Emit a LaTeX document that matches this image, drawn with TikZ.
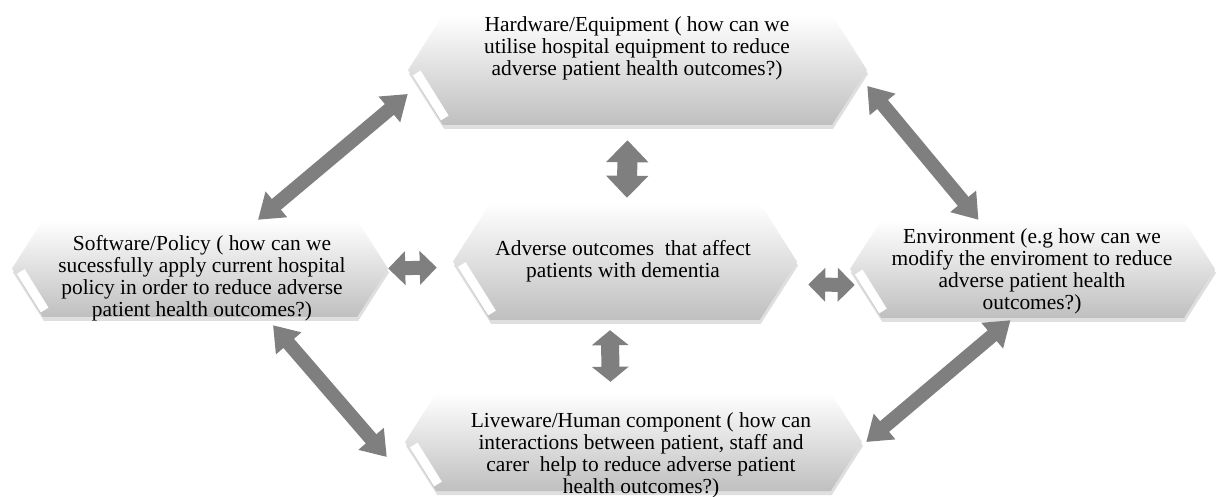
\documentclass[tikz,border=0pt]{standalone}
\usepackage{fontspec}
\setmainfont{Liberation Serif}
\usetikzlibrary{arrows.meta,shapes.symbols,shadows}

\definecolor{linkgray}{RGB}{127,127,127}

\tikzset{
  hexbox/.style={signal, signal to=east and west, signal pointer angle=115,
    draw=none, top color=white, bottom color=black!25, inner sep=0pt,
    drop shadow={shadow xshift=1bp, shadow yshift=-4bp, opacity=0.25}},
  bevel/.style={draw=white, line width=9bp},
  boxtext/.style={align=center, inner sep=0pt, font=\fontsize{21.5}{22}\selectfont},
  link/.style={draw=linkgray, line width=14bp,
    {Triangle[width=32bp,length=24bp]}-{Triangle[width=32bp,length=24bp]}},
  shortlink/.style={draw=linkgray, line width=14bp,
    {Triangle[width=33bp,length=17bp]}-{Triangle[width=33bp,length=17bp]}}
}

\begin{document}
\begin{tikzpicture}[x=1bp, y=-1bp]

% Canvas
\useasboundingbox (0,0) rectangle (1218,497);

% Draw the boxes
\node[hexbox, minimum width=459bp, minimum height=110bp] (hw) at (637.5,70) {};
\node[hexbox, minimum width=344bp, minimum height=117bp] (ctr) at (625,261.5) {};
\node[hexbox, minimum width=376bp, minimum height=97bp] (sw) at (200,268.5) {};
\node[hexbox, minimum width=365bp, minimum height=98bp] (env) at (1032.5,269) {};
\node[hexbox, minimum width=457bp, minimum height=98bp] (lw) at (633.5,442) {};

% Draw the light lower left edges
\foreach \n/\h in {hw/55, ctr/58.5, sw/48.5, env/49, lw/49}
  \draw[bevel] ([xshift=9bp,yshift=-3bp]\n.west) -- ([xshift=0.637*\h bp+2bp,yshift=-\h bp+7bp]\n.west);

% Draw the texts
\node[boxtext] (hwtext) at (637,48) {Hardware/Equipment ( how can we\\utilise hospital equipment to reduce\\adverse patient health outcomes?)};
\node[boxtext] (ctrtext) at (623,261) {Adverse outcomes~ that affect\\patients with dementia};
\node[boxtext] (swtext) at (202,278) {Software/Policy ( how can we\\sucessfully apply current hospital\\policy in order to reduce adverse\\patient health outcomes?)};
\node[boxtext] (envtext) at (1032,271) {Environment (e.g how can we\\modify the enviroment to reduce\\adverse patient health\\outcomes?)};
\node[boxtext] (lwtext) at (641,455) {Liveware/Human component ( how can\\interactions between patient, staff and\\carer~ help to reduce adverse patient\\health outcomes?)};

% Draw the outer arrows
\draw[link] ([xshift=58bp]sw.north) -- ([yshift=-24bp]hw.west);
\draw[link] ([yshift=-16bp]hw.east) -- ([xshift=-54bp]env.north);
\draw[link] ([xshift=73bp,yshift=-8bp]sw.south) -- ([xshift=-18bp,yshift=-15bp]lw.west);
\draw[link] ([xshift=-22bp,yshift=-2bp]env.south) -- ([xshift=4bp]lw.east);

% Draw the inner arrows
\draw[shortlink, line width=20bp, {Triangle[width=41bp,length=22bp]}-{Triangle[width=41bp,length=22bp]}]
  ([xshift=-10bp,yshift=-15bp]hw.south) -- ([xshift=2bp,yshift=5bp]ctr.north);
\draw[shortlink, line width=18bp, {Triangle[width=36bp,length=15bp]}-{Triangle[width=36bp,length=15bp]}]
  ([xshift=-15bp,yshift=-10bp]ctr.south) -- ([xshift=-23bp,yshift=11bp]lw.north);
\draw[shortlink] (sw.east) -- ([xshift=-16bp,yshift=-6bp]ctr.west);
\draw[shortlink] ([xshift=11bp,yshift=-23bp]ctr.east) -- ([xshift=5bp,yshift=-16bp]env.west);

\end{tikzpicture}
\end{document}
